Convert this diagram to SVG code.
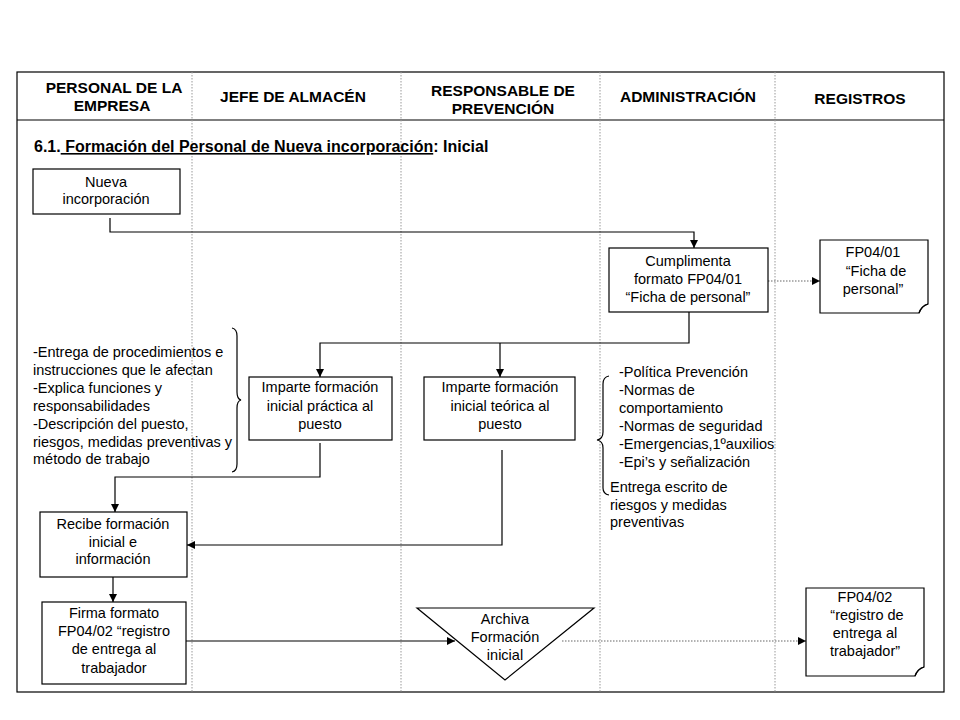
<svg xmlns="http://www.w3.org/2000/svg" width="960" height="720" viewBox="0 0 960 720">
<defs>
<marker id="ah" viewBox="0 0 10 10" refX="10" refY="5" markerWidth="8" markerHeight="8" markerUnits="userSpaceOnUse" orient="auto"><path d="M0,0 L10,5 L0,10 Z" fill="#000"/></marker>
<style>
.hd{font-family:"Liberation Sans",Arial,sans-serif;font-size:15.5px;font-weight:bold;text-anchor:middle;fill:#000}
.t{font-family:"Liberation Sans",Arial,sans-serif;font-size:14.5px;text-anchor:middle;fill:#000}
.tl{font-family:"Liberation Sans",Arial,sans-serif;font-size:14.5px;fill:#000}
.box{fill:#fff;stroke:#000;stroke-width:1.2}
.ln{fill:none;stroke:#000;stroke-width:1.2}
.dl{fill:none;stroke:#666;stroke-width:1.2;stroke-dasharray:1.5 1.5}
.lane{stroke:#999;stroke-width:1;stroke-dasharray:1.5 1.5}
</style>
</defs>
<rect width="960" height="720" fill="#fff"/>
<g id="frame">
<rect x="17" y="72" width="927" height="620" fill="none" stroke="#000" stroke-width="1.2"/>
<line x1="17" y1="120" x2="944" y2="120" stroke="#000" stroke-width="1.2"/>
<line class="lane" x1="192" y1="72" x2="192" y2="692"/>
<line class="lane" x1="401" y1="72" x2="401" y2="692"/>
<line class="lane" x1="600" y1="72" x2="600" y2="692"/>
<line class="lane" x1="775" y1="72" x2="775" y2="692"/>
</g>
<g id="headers">
<text class="hd" x="114" y="93">PERSONAL DE LA</text>
<text class="hd" x="112" y="111">EMPRESA</text>
<text class="hd" x="293" y="102">JEFE DE ALMACÉN</text>
<text class="hd" x="503" y="96">RESPONSABLE DE</text>
<text class="hd" x="503" y="114">PREVENCIÓN</text>
<text class="hd" x="688" y="102">ADMINISTRACIÓN</text>
<text class="hd" x="860" y="104">REGISTROS</text>
</g>
<g id="title">
<text class="hd" x="34" y="152" style="text-anchor:start;font-size:16px">6.1.<tspan text-decoration="underline"> Formación del Personal de Nueva incorporación</tspan>: Inicial</text>
</g>
<g id="connectors">
<polyline class="ln" points="110,218 110,232 694,232 694,248" marker-end="url(#ah)"/>
<line class="dl" x1="768" y1="281" x2="820" y2="281" marker-end="url(#ah)"/>
<polyline class="ln" points="689,312 689,343 320,343 320,377" marker-end="url(#ah)"/>
<line class="ln" x1="500" y1="343" x2="500" y2="377" marker-end="url(#ah)"/>
<polyline class="ln" points="320,443 320,477 115,477 115,512" marker-end="url(#ah)"/>
<polyline class="ln" points="502,450 502,545 187,545" marker-end="url(#ah)"/>
<line class="ln" x1="113" y1="577" x2="113" y2="602" marker-end="url(#ah)"/>
<line class="ln" x1="186" y1="641" x2="455" y2="641" marker-end="url(#ah)"/>
<line class="dl" x1="562" y1="641" x2="806" y2="641" marker-end="url(#ah)"/>
</g>
<g id="nueva">
<rect class="box" x="33" y="169" width="147" height="45"/>
<text class="t" x="106" y="187">Nueva</text>
<text class="t" x="106" y="204">incorporación</text>
</g>
<g id="cumplimenta">
<rect class="box" x="609" y="248" width="159" height="64"/>
<text class="t" x="688" y="266">Cumplimenta</text>
<text class="t" x="688" y="284">formato FP04/01</text>
<text class="t" x="688" y="302">“Ficha de personal”</text>
</g>
<g id="fp0401">
<path class="box" d="M820,240 H928 V304 Q922,306 919,313 H820 Z"/>
<path class="ln" d="M919,313 Q921,306 928,304" stroke-width="0.8"/>
<text class="t" x="873" y="257">FP04/01</text>
<text class="t" x="876" y="276">“Ficha de</text>
<text class="t" x="873" y="294">personal”</text>
</g>
<g id="practica">
<rect class="box" x="249" y="377" width="143" height="63"/>
<text class="t" x="320" y="392">Imparte formación</text>
<text class="t" x="320" y="411">inicial práctica al</text>
<text class="t" x="320" y="429">puesto</text>
</g>
<g id="teorica">
<rect class="box" x="424" y="377" width="151" height="63"/>
<text class="t" x="500" y="392">Imparte formación</text>
<text class="t" x="500" y="411">inicial teórica al</text>
<text class="t" x="500" y="429">puesto</text>
</g>
<g id="nota-izq">
<text class="tl" x="33" y="357">-Entrega de procedimientos e</text>
<text class="tl" x="33" y="375">instrucciones que le afectan</text>
<text class="tl" x="33" y="393">-Explica funciones  y</text>
<text class="tl" x="33" y="411">responsabilidades</text>
<text class="tl" x="33" y="429">-Descripción del puesto,</text>
<text class="tl" x="33" y="447">riesgos, medidas preventivas y</text>
<text class="tl" x="33" y="464">método de trabajo</text>
<path class="ln" stroke-width="1" d="M232,328 Q237,329 237,336 V392 Q237,399 241,400 Q237,401 237,408 V464 Q237,471 232,472"/>
</g>
<g id="nota-der">
<text class="tl" x="619" y="377">-Política Prevención</text>
<text class="tl" x="619" y="395">-Normas de</text>
<text class="tl" x="619" y="413">comportamiento</text>
<text class="tl" x="619" y="431">-Normas de seguridad</text>
<text class="tl" x="619" y="449">-Emergencias,1ºauxilios</text>
<text class="tl" x="619" y="467">-Epi’s y señalización</text>
<text class="tl" x="610" y="492">Entrega escrito de</text>
<text class="tl" x="610" y="510">riesgos y medidas</text>
<text class="tl" x="610" y="527">preventivas</text>
<path class="ln" stroke-width="1" d="M609,376 Q603,377 603,384 V432 Q603,439 597,440 Q603,441 603,448 V488 Q603,494 609,495"/>
</g>
<g id="recibe">
<rect class="box" x="40" y="512" width="147" height="65"/>
<text class="t" x="113" y="529">Recibe formación</text>
<text class="t" x="113" y="547">inicial e</text>
<text class="t" x="113" y="564">información</text>
</g>
<g id="firma">
<rect class="box" x="42" y="602" width="144" height="82"/>
<text class="t" x="114" y="618">Firma formato</text>
<text class="t" x="114" y="636">FP04/02 “registro</text>
<text class="t" x="114" y="654">de entrega al</text>
<text class="t" x="114" y="673">trabajador</text>
</g>
<g id="archiva">
<path class="box" d="M417,608 H594 L505,680 Z"/>
<text class="t" x="505" y="624">Archiva</text>
<text class="t" x="505" y="642">Formación</text>
<text class="t" x="505" y="660">inicial</text>
</g>
<g id="fp0402">
<path class="box" d="M806,588 H924 V667 Q918,669 915,676 H806 Z"/>
<path class="ln" d="M915,676 Q917,669 924,667" stroke-width="0.8"/>
<text class="t" x="865" y="602">FP04/02</text>
<text class="t" x="867" y="620">“registro de</text>
<text class="t" x="865" y="638">entrega al</text>
<text class="t" x="865" y="656">trabajador”</text>
</g>
</svg>
